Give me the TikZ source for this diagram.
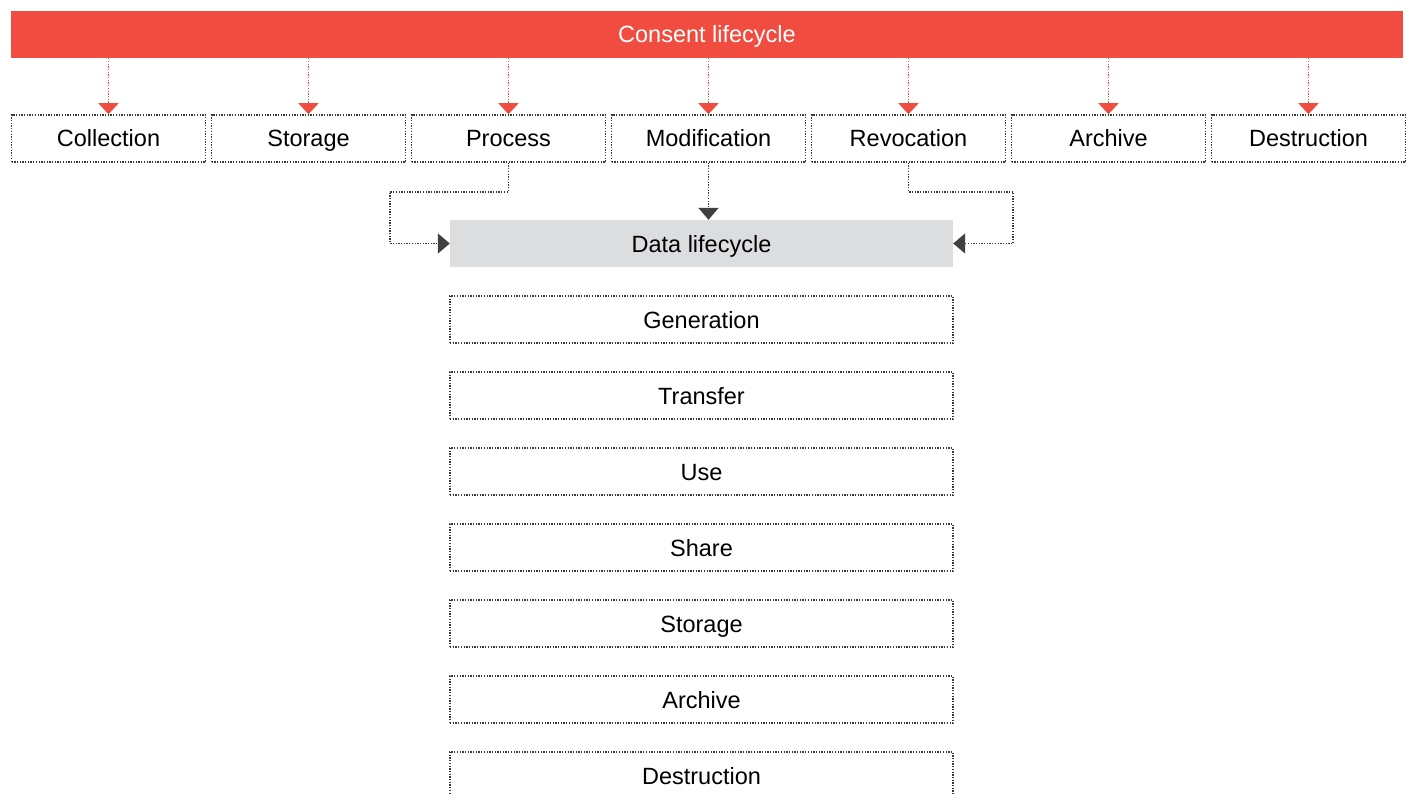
\documentclass[tikz,border=0pt]{standalone}
\usepackage{fontspec}
\setmainfont{Liberation Sans}
\usetikzlibrary{arrows.meta}
\definecolor{cred}{HTML}{F04C3F}
\definecolor{cgray}{HTML}{DCDDDF}
\definecolor{cline}{HTML}{3A3A3A}
\definecolor{ctip}{HTML}{404040}
\tikzset{
  lbl/.style={font=\fontsize{23.5}{28}\selectfont, text=black, text height=20pt, text depth=3pt},
  dots/.style={line width=1.6pt, dash pattern=on 1.3pt off 1.4pt},
  banner/.style={lbl, fill=cred, text=white, minimum width=1392pt, minimum height=47pt, inner sep=0pt},
  cbox/.style={lbl, draw=cline, dots, minimum width=194pt, minimum height=47pt, inner sep=0pt},
  dbox/.style={lbl, draw=cline, dots, minimum width=503pt, minimum height=47pt, inner sep=0pt},
  graybox/.style={lbl, fill=cgray, minimum width=503pt, minimum height=47pt, inner sep=0pt},
  rarr/.style={draw=cred, dots, -{Triangle[width=20pt,length=11pt,fill=cred,sep=0pt]}},
  darr/.style={draw=cline, dots, -{Triangle[width=20pt,length=12pt,fill=ctip,color=ctip]}},
}
\begin{document}
\begin{tikzpicture}[x=1pt,y=-1pt]
\useasboundingbox (0,0) rectangle (1415,794);
\clip (0,0) rectangle (1415,794);
\node[banner] (cl) at (707,34.5) {Consent lifecycle};
\node[cbox] (c1) at (108.5,138.5) {Collection};
\node[cbox] (c2) at (308.5,138.5) {Storage};
\node[cbox] (c3) at (508.5,138.5) {Process};
\node[cbox] (c4) at (708.5,138.5) {Modification};
\node[cbox] (c5) at (908.5,138.5) {Revocation};
\node[cbox] (c6) at (1108.5,138.5) {Archive};
\node[cbox] (c7) at (1308.5,138.5) {Destruction};
\foreach \i in {1,...,7} {
  \draw[rarr] (cl.south -| c\i.north) -- (c\i.north);
}
\node[graybox] (dl) at (701.5,243.5) {Data lifecycle};
\draw[darr] (c3.south) -- ++(0,29) -| ([xshift=-60pt]dl.west) -- (dl.west);
\draw[darr] (c4.south) -- (c4.south |- dl.north);
\draw[darr] (c5.south) -- ++(0,29) -| ([xshift=60pt]dl.east) -- (dl.east);
\node[dbox] (d1) at (701.5,319.5) {Generation};
\node[dbox] (d2) at (701.5,395.5) {Transfer};
\node[dbox] (d3) at (701.5,471.5) {Use};
\node[dbox] (d4) at (701.5,547.5) {Share};
\node[dbox] (d5) at (701.5,623.5) {Storage};
\node[dbox] (d6) at (701.5,699.5) {Archive};
\node[dbox] (d7) at (701.5,775.5) {Destruction};
\end{tikzpicture}
\end{document}
